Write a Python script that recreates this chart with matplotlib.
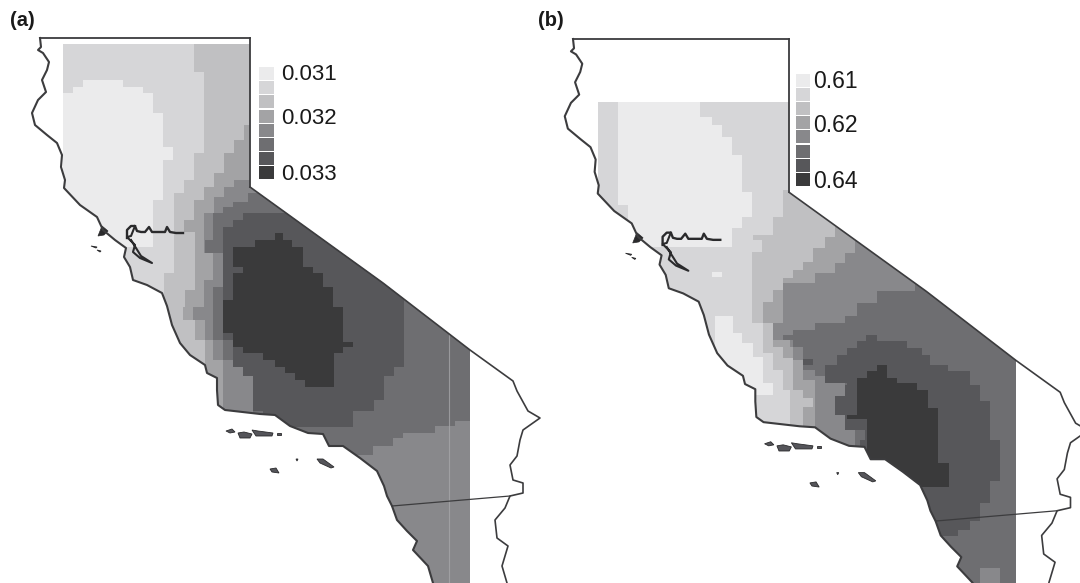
import numpy as np
import matplotlib
matplotlib.use("Agg")
import matplotlib.pyplot as plt
from matplotlib.patches import Polygon

plt.rcParams['font.family'] = ['Liberation Sans', 'DejaVu Sans']

# grey for each class of the legend, lightest to darkest
level_col = ["#ebebec", "#d6d6d8", "#c0c0c2", "#a3a3a5", "#88888b", "#6e6e71", "#57575a", "#3a3a3b"]

# outline, in picture pixels. panel (b) is the same map a bit bigger
west_x = [250, 40, 41, 38, 43, 49, 47, 42, 46, 43, 38, 32, 35, 47, 57, 62, 61, 65, 64, 80, 97, 103, 115, 126, 124, 130, 133, 147, 162,
          167, 172, 180, 190, 205, 207, 217, 217, 218, 225, 260, 275, 290, 308, 323, 329, 343, 360, 377, 384, 387, 392, 397, 407, 417, 413, 428, 433]
west_y = [38, 38, 47, 50, 53, 62, 70, 80, 92, 95, 100, 113, 125, 135, 143, 155, 167, 180, 188, 205, 217, 230, 240, 248, 257, 267, 280, 285, 293,
          306, 325, 343, 355, 365, 373, 378, 390, 405, 410, 414, 415, 426, 433, 434, 446, 446, 458, 471, 486, 496, 506, 520, 531, 541, 550, 566, 583]
east_x = [250, 383, 470, 513, 517, 528, 540, 523, 520, 517, 510, 513, 523, 523, 510, 505, 495, 497, 508, 502, 507]
east_y = [187, 283, 350, 381, 391, 411, 418, 430, 440, 456, 465, 480, 483, 493, 496, 508, 520, 538, 546, 566, 583]
nv_x = [250, 250]
nv_y = [38, 187]
border_x = [392, 510]
border_y = [506, 496]
delta_x = [127, 127, 131, 135, 137, 141, 145, 149, 152, 160, 165, 167, 170, 176, 183]
delta_y = [238, 230, 226, 226, 231, 232, 232, 227, 232, 232, 232, 227, 232, 233, 233]
bay_x = [135, 131, 127, 135, 133, 140, 152, 141, 136, 131]
bay_y = [226, 236, 237, 245, 252, 258, 263, 256, 248, 240]
north_bay_x = [98, 102, 108, 104]
north_bay_y = [236, 226, 231, 235]
islands_x = [[226, 232, 235, 230], [238, 244, 252, 250, 240], [252, 258, 273, 272, 256], [277, 281, 281, 277], [317, 323, 334, 331, 320],
             [270, 276, 279, 272], [296, 298, 297], [91, 97, 96], [97, 101, 100]]
islands_y = [[431, 429, 432, 433], [433, 432, 434, 438, 438], [430, 431, 433, 436, 436], [433, 433, 435, 435], [459, 459, 467, 468, 463],
             [469, 468, 473, 472], [459, 459, 461], [246, 247, 248], [250, 251, 252]]

# panel (a): rows of each class, y has one more entry than the edges
a_top = [44, 583]
a0_y = [80, 87, 93, 113, 147, 160, 200, 247]
a0_left = [83, 73, 63, 63, 63, 63, 63]
a0_right = [123, 143, 153, 163, 173, 163, 153]
a2_y = [44, 72, 153, 180, 193, 273, 583]
a2_left = [194, 204, 194, 184, 174, 164]
a3_y = [125, 140, 153, 173, 187, 200, 220, 232, 290, 307, 320, 340, 583]
a3_left = [244, 234, 224, 214, 204, 194, 184, 195, 185, 183, 195, 205]
a4_y = [180, 187, 197, 213, 253, 280, 307, 320, 340, 360, 583]
a4_left = [234, 224, 214, 204, 213, 204, 193, 205, 213, 223]
a5_y = [193, 202, 207, 213, 240, 253, 287, 340, 360, 367, 376, 421, 426, 433, 438, 446, 455, 470]
a5_left = [248, 233, 223, 213, 205, 223, 213, 223, 233, 243, 253, 253, 253, 253, 253, 253, 253]
a5_right = [470, 470, 470, 470, 470, 470, 470, 470, 470, 470, 470, 455, 435, 403, 393, 373, 350]
a6_y = [213, 220, 227, 340, 367, 376, 400, 411, 427]
a6_left = [243, 233, 223, 233, 243, 253, 253, 263]
a6_right = [404, 404, 404, 404, 394, 384, 374, 353]
a7_y = [233, 240, 247, 267, 273, 287, 300, 307, 333, 342, 347, 353, 360, 367, 373, 380, 387]
a7_left = [275, 255, 233, 243, 233, 233, 223, 223, 233, 233, 243, 263, 275, 285, 295, 305]
a7_right = [283, 292, 303, 313, 323, 333, 333, 343, 343, 353, 343, 334, 334, 334, 334, 334]
a_seam_x = 449
a_seam_y = [335, 583]

# panel (b)
b_top = [102, 583]
b0_y = [102, 117, 125, 137, 155, 192, 205, 217, 228, 247]
b0_left = [618, 618, 618, 618, 618, 618, 628, 628, 628]
b0_right = [700, 712, 722, 732, 742, 752, 752, 742, 732]
b0s_y = [316, 333, 343, 357, 383, 395]
b0s_left = [715, 715, 715, 715, 715]
b0s_right = [733, 742, 753, 763, 773]
b0c_x = [712, 722]
b0c_y = [272, 277]
b2_y = [190, 217, 235, 240, 252, 323, 353, 370, 390, 583]
b2_left = [783, 773, 753, 762, 752, 763, 773, 783, 790]
b3_y = [227, 237, 248, 262, 270, 278, 290, 302, 323, 347, 358, 390, 398, 407, 583]
b3_left = [835, 825, 813, 803, 793, 783, 773, 763, 773, 783, 793, 803, 813, 803]
b4_y = [240, 253, 263, 273, 283, 323, 340, 347, 360, 380, 583]
b4_left = [855, 845, 835, 815, 783, 773, 790, 793, 803, 815]
b5_y = [283, 291, 303, 316, 323, 330, 335, 340, 347, 370, 376, 396, 410, 430, 583]
b5_left = [915, 877, 857, 845, 815, 793, 783, 793, 803, 815, 845, 835, 845, 855]
b6_y = [335, 341, 348, 355, 365, 371, 383, 385, 396, 401, 415, 430, 440, 481, 503, 521, 530, 536]
b6_left = [866, 857, 847, 837, 825, 825, 847, 845, 835, 835, 845, 865, 860, 860, 860, 860, 860]
b6_right = [877, 907, 922, 930, 948, 970, 970, 980, 980, 990, 990, 990, 1000, 990, 980, 970, 958]
b6c_x = [803, 813]
b6c_y = [359, 365]
b7_y = [365, 371, 378, 383, 390, 408, 415, 419, 463, 487]
b7_left = [877, 867, 857, 857, 857, 857, 847, 867, 867]
b7_right = [887, 887, 897, 917, 928, 938, 938, 938, 949]
b4c_x = [980, 1000]
b4c_y = [568, 583]

legend_a_labels = ["0.031", "0.032", "0.033"]
legend_a_label_y = [75, 118, 175]
legend_b_labels = ["0.61", "0.62", "0.64"]
legend_b_label_y = [82, 125, 182]


def same(x, y):
    return np.array(x, dtype=float), np.array(y, dtype=float)


def to_b(x, y):
    return 573 + 1.03 * (np.array(x, dtype=float) - 40), 39 + 1.03 * (np.array(y, dtype=float) - 38)


def rows(ax, y, left, right, level, clip):
    # step fill of one grid class, cut along the coast
    left = np.append(left, left[-1])
    right = np.append(right, right[-1]) if np.ndim(right) else right
    p = ax.fill_betweenx(y, left, right, step="post", color=level_col[level], linewidth=0)
    p.set_clip_path(clip)


def draw_map(ax, scale_fn):
    xw, yw = scale_fn(west_x, west_y)
    xe, ye = scale_fn(east_x, east_y)
    state_xy = np.r_[np.c_[xw[::-1], yw[::-1]], np.c_[xe, ye]]
    clip = Polygon(state_xy, closed=True, facecolor="none", edgecolor="none")
    ax.add_patch(clip)
    return clip, xw, yw, xe, ye


def draw_lines(ax, scale_fn, xw, yw, xe, ye):
    line_col = "#3c3c3e"
    ax.plot(xw[:2], yw[:2], color=line_col, lw=1.3)
    ax.plot(xw[1:], yw[1:], color=line_col, lw=1.5, solid_joinstyle="round")
    ax.plot(xe, ye, color=line_col, lw=1.2, solid_joinstyle="round")
    ax.plot(*scale_fn(nv_x, nv_y), color=line_col, lw=1.3)
    ax.plot(*scale_fn(border_x, border_y), color=line_col, lw=0.9)
    ax.plot(*scale_fn(delta_x, delta_y), color="#2a2a2c", lw=1.7)
    ax.plot(*scale_fn(bay_x, bay_y), color="#2a2a2c", lw=1.5)
    ax.fill(*scale_fn(north_bay_x, north_bay_y), color="#2a2a2c", lw=0.5)
    for ix, iy in zip(islands_x, islands_y):
        ax.fill(*scale_fn(ix, iy), facecolor="#55555a", edgecolor="#2a2a2c", lw=0.6)


fig = plt.figure(figsize=(10.8, 5.83), dpi=100)
ax = fig.add_axes([0, 0, 1, 1])
ax.set_xlim(0, 1080)
ax.set_ylim(583, 0)
ax.axis("off")

# panel a
clip, xw, yw, xe, ye = draw_map(ax, same)
rows(ax, a_top, [63], [470], 1, clip)
rows(ax, a0_y, a0_left, a0_right, 0, clip)
rows(ax, a2_y, a2_left, 470, 2, clip)
rows(ax, a3_y, a3_left, 470, 3, clip)
rows(ax, a4_y, a4_left, 470, 4, clip)
rows(ax, a5_y, a5_left, a5_right, 5, clip)
rows(ax, a6_y, a6_left, a6_right, 6, clip)
rows(ax, a7_y, a7_left, a7_right, 7, clip)
ax.plot([a_seam_x, a_seam_x], a_seam_y, color="#a5a5a8", lw=0.8, alpha=0.8)
draw_lines(ax, same, xw, yw, xe, ye)

# panel b
clip, xw, yw, xe, ye = draw_map(ax, to_b)
rows(ax, b_top, [598], [1016], 1, clip)
rows(ax, b0_y, b0_left, b0_right, 0, clip)
rows(ax, b0s_y, b0s_left, b0s_right, 0, clip)
rows(ax, b0c_y, [b0c_x[0]], [b0c_x[1]], 0, clip)
rows(ax, b2_y, b2_left, 1016, 2, clip)
rows(ax, b3_y, b3_left, 1016, 3, clip)
rows(ax, b4_y, b4_left, 1016, 4, clip)
rows(ax, b5_y, b5_left, 1016, 5, clip)
rows(ax, b6c_y, [b6c_x[0]], [b6c_x[1]], 6, clip)
rows(ax, b6_y, b6_left, b6_right, 6, clip)
rows(ax, b7_y, b7_left, b7_right, 7, clip)
rows(ax, b4c_y, [b4c_x[0]], [b4c_x[1]], 4, clip)
draw_lines(ax, to_b, xw, yw, xe, ye)

# legends
for i, c in enumerate(level_col):
    ax.fill_between([259, 274], 67 + 14.2 * i, 80 + 14.2 * i, color=c, linewidth=0)
    ax.fill_between([796, 810], 74 + 14.1 * i, 87 + 14.1 * i, color=c, linewidth=0)
for lab, y in zip(legend_a_labels, legend_a_label_y):
    ax.text(281, y, lab, fontsize=16, va="center", ha="left", color="#1a1a1a")
for lab, y in zip(legend_b_labels, legend_b_label_y):
    ax.text(813, y, lab, fontsize=16.5, va="center", ha="left", color="#1a1a1a")

ax.text(10, 20, "(a)", fontsize=14.5, fontweight="bold", va="center", color="#1a1a1a")
ax.text(538, 20, "(b)", fontsize=14.5, fontweight="bold", va="center", color="#1a1a1a")

fig.savefig("out.png", dpi=100)
